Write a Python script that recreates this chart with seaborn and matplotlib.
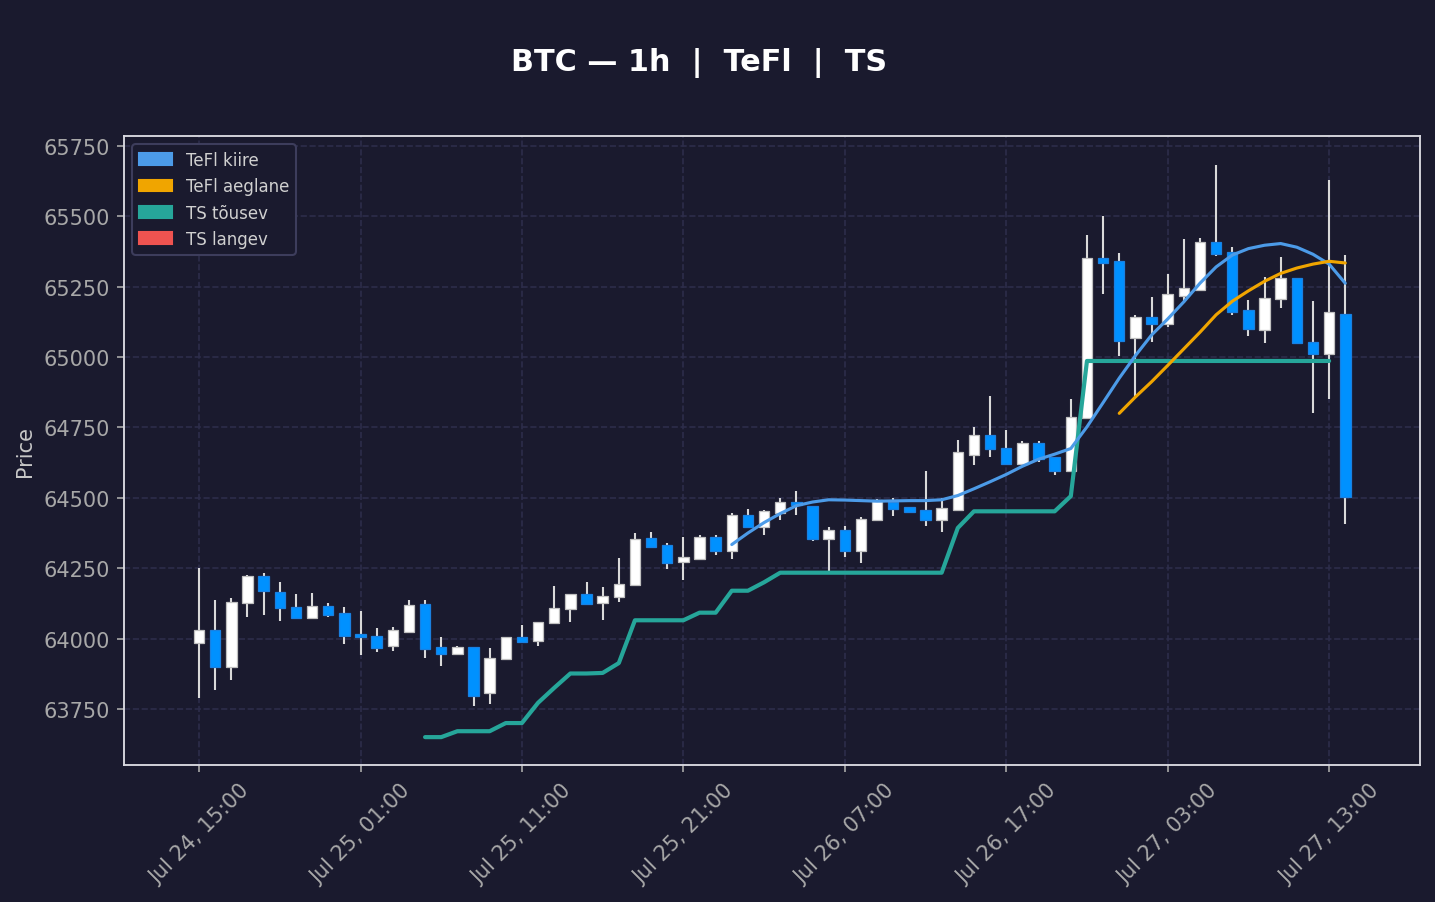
import numpy as np
import pandas as pd
import matplotlib
matplotlib.use("Agg")
import matplotlib.pyplot as plt
from matplotlib.patches import Patch
import seaborn as sns

# ---------------- data ----------------
start_time = "2024-07-24 15:00"

opens = [63985, 64030, 63900, 64128, 64221, 64164, 64112, 64074, 64116, 64091,
         64016, 64009, 63975, 64025, 64123, 63969, 63946, 63969, 63808, 63927,
         64005, 63990, 64054, 64104, 64157, 64125, 64149, 64189, 64356, 64331,
         64271, 64284, 64360, 64312, 64439, 64395, 64447, 64485, 64471, 64355,
         64386, 64310, 64420, 64486, 64466, 64455, 64422, 64458, 64653, 64722,
         64676, 64619, 64694, 64644, 64594, 64783, 65351, 65340, 65066, 65141,
         65116, 65218, 65237, 65408, 65372, 65166, 65096, 65205, 65280, 65052,
         65012, 65152]
highs = [64252, 64137, 64144, 64226, 64233, 64201, 64158, 64162, 64128, 64112,
         64098, 64038, 64041, 64137, 64137, 64006, 63975, 63969, 63967, 64005,
         64048, 64058, 64188, 64157, 64201, 64183, 64286, 64375, 64379, 64340,
         64361, 64368, 64368, 64447, 64460, 64456, 64500, 64525, 64471, 64396,
         64400, 64432, 64496, 64498, 64466, 64595, 64498, 64705, 64752, 64862,
         64741, 64702, 64702, 64644, 64851, 65434, 65500, 65370, 65148, 65213,
         65295, 65419, 65423, 65682, 65390, 65203, 65284, 65356, 65280, 65199,
         65629, 65363]
lows = [63790, 63817, 63853, 64077, 64084, 64063, 64074, 64074, 64077, 63981,
        63942, 63952, 63957, 64025, 63932, 63903, 63941, 63762, 63769, 63927,
        63985, 63975, 64054, 64060, 64120, 64067, 64131, 64189, 64327, 64248,
        64209, 64284, 64298, 64284, 64395, 64369, 64422, 64440, 64348, 64241,
        64291, 64270, 64420, 64437, 64451, 64401, 64380, 64458, 64618, 64646,
        64619, 64619, 64626, 64581, 64594, 64783, 65225, 65005, 64859, 65055,
        65108, 65191, 65237, 65359, 65149, 65075, 65051, 65175, 65051, 64802,
        64852, 64406]
closes = [64030, 63900, 64129, 64221, 64170, 64108, 64074, 64116, 64084, 64010,
          64007, 63968, 64031, 64119, 63964, 63946, 63969, 63797, 63930, 64005,
          63989, 64058, 64108, 64157, 64123, 64153, 64193, 64353, 64327, 64270,
          64289, 64360, 64312, 64439, 64395, 64452, 64486, 64476, 64354, 64386,
          64310, 64424, 64491, 64461, 64451, 64422, 64463, 64662, 64722, 64672,
          64619, 64694, 64639, 64594, 64786, 65351, 65335, 65056, 65141, 65116,
          65223, 65244, 65408, 65367, 65161, 65101, 65208, 65280, 65051, 65009,
          65159, 64504]

# TS rising (trailing stop) starts at candle 14
ts_up_start = 14
ts_up = [63650, 63650, 63671, 63671, 63671, 63700, 63700, 63772, 63825, 63876,
         63876, 63878, 63913, 64065, 64065, 64065, 64065, 64092, 64092, 64170,
         64170, 64200, 64234, 64234, 64234, 64234, 64234, 64234, 64234, 64234,
         64234, 64234, 64234, 64393, 64452, 64452, 64452, 64452, 64452, 64452,
         64506, 64986, 64986, 64986, 64986, 64986, 64986, 64986, 64986, 64986,
         64986, 64986, 64986, 64986, 64986, 64986, 64986]

# TeFl fast line starts at candle 33
fast_start = 33
tefl_fast = [64334, 64375, 64412, 64444, 64472, 64485, 64493, 64492, 64490, 64488,
             64489, 64490, 64490, 64493, 64508, 64532, 64557, 64583, 64612, 64637,
             64655, 64675, 64752, 64838, 64925, 65005, 65078, 65135, 65196, 65262,
             65320, 65362, 65385, 65397, 65403, 65390, 65365, 65330, 65262]

# TeFl slow line starts at candle 57
slow_start = 57
tefl_slow = [64800, 64858, 64912, 64970, 65029, 65088, 65150, 65198, 65235, 65269,
             65297, 65316, 65330, 65340, 65334]

y_ticks = [63750, 64000, 64250, 64500, 64750, 65000, 65250, 65500, 65750]
legend_labels = ["TeFl kiire", "TeFl aeglane", "TS tõusev", "TS langev"]
title = "BTC — 1h  |  TeFl  |  TS"

# ---------------- style ----------------
BG = "#1a1a2e"
GRID = "#2d2d4a"
C_FAST = "#4c9be8"
C_SLOW = "#f0a500"
C_UP = "#26a69a"
C_DOWN = "#ef5350"
C_BEAR = "#0091ff"

sns.set_theme(style="dark", rc={
    "axes.facecolor": BG,
    "figure.facecolor": BG,
    "savefig.facecolor": BG,
    "axes.edgecolor": "#d8d8e0",
    "grid.color": GRID,
})
plt.rcParams["font.family"] = ["DejaVu Sans"]

fig = plt.figure(figsize=(1435 / 150, 903 / 150), dpi=150)
ax = fig.add_axes([124 / 1435, 1 - 766 / 903, (1420 - 124) / 1435, (766 - 137) / 903])
ax.set_facecolor(BG)

o = np.array(opens, dtype=float)
h = np.array(highs, dtype=float)
l = np.array(lows, dtype=float)
c = np.array(closes, dtype=float)
n = len(o)
x = np.arange(n)
dates = pd.date_range(start_time, periods=n, freq="h")

up = c >= o
ax.vlines(x, l, h, color="#d9d9d9", linewidth=1.0, zorder=2)
ax.bar(x[up], (c - o)[up], bottom=o[up], width=0.65, color="white",
       edgecolor="#c0c0c0", linewidth=0.6, zorder=3)
ax.bar(x[~up], (o - c)[~up], bottom=c[~up], width=0.65, color=C_BEAR,
       edgecolor="#1a80e0", linewidth=0.6, zorder=3)

df_up = pd.DataFrame({"x": np.arange(ts_up_start, ts_up_start + len(ts_up)), "y": ts_up})
df_fast = pd.DataFrame({"x": np.arange(fast_start, fast_start + len(tefl_fast)), "y": tefl_fast})
df_slow = pd.DataFrame({"x": np.arange(slow_start, slow_start + len(tefl_slow)), "y": tefl_slow})

sns.lineplot(data=df_up, x="x", y="y", ax=ax, color=C_UP, linewidth=2.0, zorder=5)
sns.lineplot(data=df_fast, x="x", y="y", ax=ax, color=C_FAST, linewidth=1.5, zorder=6)
sns.lineplot(data=df_slow, x="x", y="y", ax=ax, color=C_SLOW, linewidth=1.5, zorder=6)

ax.set_xlim(-4.65, 75.63)
ax.set_ylim(63551, 65785)
ax.set_yticks(y_ticks)
ax.set_yticklabels([str(v) for v in y_ticks])
ax.set_xticks(x[::10])
ax.set_xticklabels([d.strftime("%b %d, %H:%M") for d in dates[::10]], rotation=45)

ax.grid(True, color=GRID, linestyle="--", linewidth=0.8)
ax.set_axisbelow(True)
ax.tick_params(axis="both", colors="#a8a8a8", labelsize=10, length=3.5, width=0.8,
               bottom=True, left=True)
for s in ax.spines.values():
    s.set_color("#d8d8e0")
    s.set_linewidth(0.9)

ax.set_xlabel("")
ax.set_ylabel("Price", color="#c8c8c8", fontsize=10)

handles = [Patch(facecolor=col, edgecolor=col, label=lab)
           for col, lab in zip([C_FAST, C_SLOW, C_UP, C_DOWN], legend_labels)]
leg = ax.legend(handles=handles, loc="upper left", fontsize=8, facecolor=BG,
                edgecolor="#3d3d5c", labelcolor="#d0d0d0", framealpha=1)

fig.suptitle(title, x=699.5 / 1435, y=1 - 62.5 / 903, va="center", color="white",
             fontsize=14.5, fontweight="bold")

fig.savefig("out.png", dpi=150, facecolor=BG)
